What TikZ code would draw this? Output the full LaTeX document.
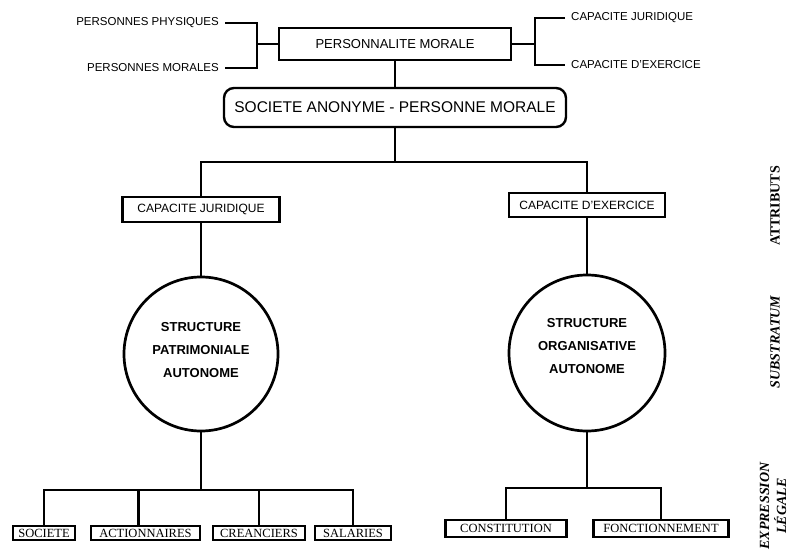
\documentclass[tikz,border=0pt]{standalone}
\usepackage{fontspec}
\setmainfont{Liberation Serif}
\setsansfont{Liberation Sans}
\usetikzlibrary{positioning, calc}

\begin{document}
\begin{tikzpicture}[
    x=1pt, y=-1pt,
    wire/.style={line width=2.7pt},
    lbl/.style={font=\sffamily\fontsize{11.5}{13}\selectfont, inner ysep=1pt, inner xsep=6pt},
    box/.style={draw, line width=2.2pt, inner sep=0pt, font=\sffamily\fontsize{12}{14}\selectfont},
    rbox/.style={box, rounded corners=10pt, line width=2.4pt, font=\sffamily\fontsize{15.5}{17}\selectfont},
    circ/.style={circle, draw, line width=2.7pt, inner sep=0pt},
    ctext/.style={align=center, font=\sffamily\bfseries\fontsize{13}{23}\selectfont},
    leaf/.style={draw, line width=2.2pt, inner sep=0pt, font=\rmfamily\fontsize{12.5}{14}\selectfont},
    side/.style={rotate=90, font=\rmfamily\bfseries\fontsize{14}{17}\selectfont, align=center},
]
\useasboundingbox (0,0) rectangle (791,553);
% ============================================================
% TOP: personnalite morale with its two brackets
% ============================================================
\node[box, minimum width=232, minimum height=32, font=\sffamily\fontsize{13}{15}\selectfont] (perso) at (395,44) {PERSONNALITE MORALE};
\node[lbl, anchor=east] (pp) at (225,23) {PERSONNES PHYSIQUES};
\node[lbl, anchor=east] (pm) at (225,68) {PERSONNES MORALES};
\coordinate (jl) at (257,44);
\draw[wire] (pp.east) -| (jl) |- (pm.east);
\draw[wire] (jl) -- (perso.west);
% --- right bracket ---
\node[lbl, anchor=west] (cj) at (565,18) {CAPACITE JURIDIQUE};
\node[lbl, anchor=west] (ce) at (565,65) {CAPACITE D'EXERCICE};
\coordinate (jr) at (535,44);
\draw[wire] (perso.east) -- (jr);
\draw[wire] (cj.west) -| (jr) |- (ce.west);
% --- societe anonyme ---
\node[rbox, minimum width=342, minimum height=39] (sa) at (395,107.5) {SOCIETE ANONYME - PERSONNE MORALE};
\draw[wire] (perso.south) -- (sa.north);
% ============================================================
% MIDDLE: attributs and substratum
% ============================================================
\node[box, minimum width=157, minimum height=25] (cjb) at (201,209.5) {CAPACITE JURIDIQUE};
\node[box, minimum width=156, minimum height=24] (ceb) at (587,205) {CAPACITE D'EXERCICE};
\coordinate (split) at (395,162);
\draw[wire] (sa.south) -- (split);
\draw[wire] (cjb.north) |- (split) -| (ceb.north);
\node[circ, minimum size=154] (circl) at (201,354) {};
\node[circ, minimum size=156] (circr) at (587,353) {};
\node[ctext] (tl) at (201,350) {STRUCTURE\\PATRIMONIALE\\AUTONOME};
\node[ctext] (tr) at (587,346) {STRUCTURE\\ORGANISATIVE\\AUTONOME};
\draw[wire] (cjb.south) -- (circl.north);
\draw[wire] (ceb.south) -- (circr.north);
% ============================================================
% BOTTOM: expression legale
% ============================================================
\foreach \n/\x/\w/\t in {soc/44/62/SOCIETE, act/145.5/109/ACTIONNAIRES, cre/259/92/CREANCIERS, sal/353/76/SALARIES} {
    \node[leaf, minimum width=\w, minimum height=14] (\n) at (\x,533) {\t};
}
\coordinate (bl) at (201,490);
\draw[wire] (circl.south) -- (bl);
\draw[wire] (soc.north) |- (bl) -| (sal.north);
\draw[wire] ([xshift=-7pt]act.north) -- ([xshift=-7pt]act.north |- bl);
\draw[wire] (cre.north) -- (cre.north |- bl);
%
\node[leaf, minimum width=121, minimum height=17] (con) at (506,528.5) {CONSTITUTION};
\node[leaf, minimum width=135, minimum height=17] (fon) at (661,528.5) {FONCTIONNEMENT};
\coordinate (br) at (587,488);
\draw[wire] (circr.south) -- (br);
\draw[wire] (con.north) |- (br) -| (fon.north);
% --- side titles ---
\node[side] (attr) at (775,206) {ATTRIBUTS};
\node[side, font=\rmfamily\bfseries\itshape\fontsize{14}{17}\selectfont] (subs) at (775,342) {SUBSTRATUM};
\node[side, font=\rmfamily\bfseries\itshape\fontsize{14}{17}\selectfont] (expr) at (773,506) {EXPRESSION\\LÉGALE};
\end{tikzpicture}
\end{document}
